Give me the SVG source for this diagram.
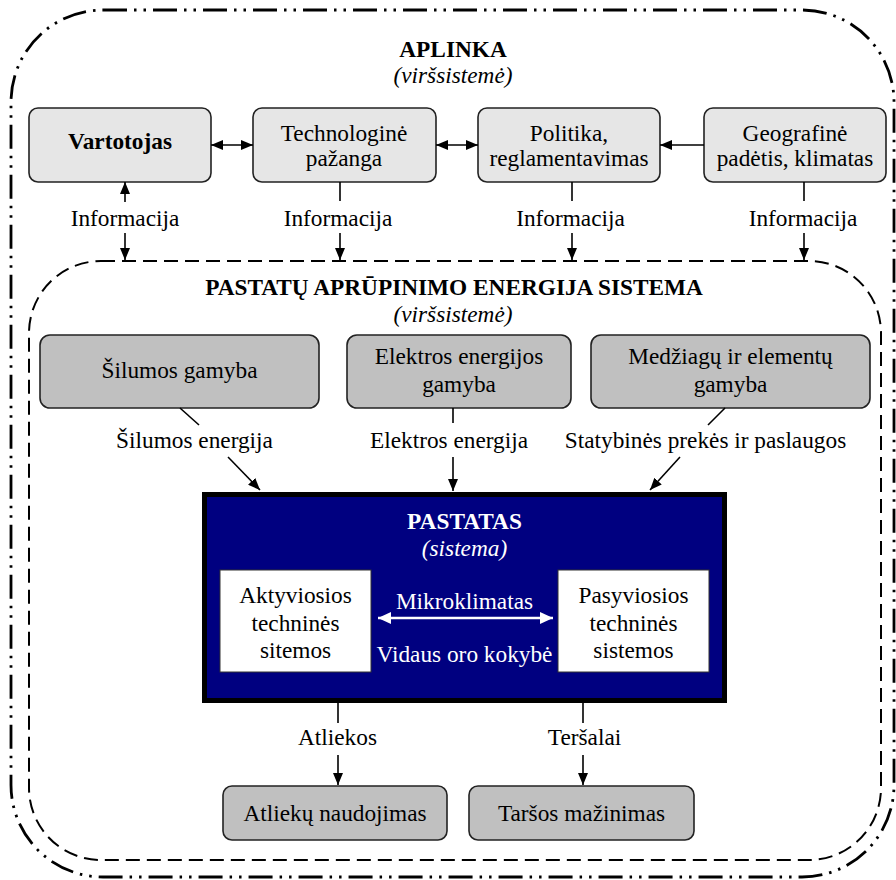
<svg xmlns="http://www.w3.org/2000/svg" width="896" height="880" viewBox="0 0 896 880">
<defs>
<style>
text{font-family:'Liberation Serif','Times New Roman',serif;font-size:23.3px;fill:#000;text-anchor:middle}
.b{font-weight:bold}
.i{font-style:italic}
.w{fill:#fff}
.n1{fill:#e6e6e6;stroke:#222;stroke-width:1.6}
.n2{fill:#c0c0c0;stroke:#222;stroke-width:1.6}
.ln{stroke:#000;stroke-width:1.6;fill:none}
.ar{stroke:#000;stroke-width:1.6;fill:none;marker-end:url(#ah)}
.dar{stroke:#000;stroke-width:1.6;fill:none;marker-start:url(#ah);marker-end:url(#ah)}
</style>
<marker id="ah" markerUnits="userSpaceOnUse" markerWidth="12" markerHeight="10" refX="12" refY="5" orient="auto-start-reverse" viewBox="0 0 12 10"><path d="M0,0 L12,5 L0,10 z" fill="#000"/></marker>
<marker id="wh" markerUnits="userSpaceOnUse" markerWidth="13" markerHeight="12" refX="13" refY="6" orient="auto-start-reverse" viewBox="0 0 13 12"><path d="M0,0 L13,6 L0,12 z" fill="#fff"/></marker>
</defs>
<rect width="896" height="880" fill="#fff"/>

<g id="aplinka">
<rect x="11" y="10" width="883" height="867" rx="92" fill="none" stroke="#000" stroke-width="2.8" stroke-dasharray="24 7 2.5 7 2.5 7"/>
<text x="453" y="57" class="b">APLINKA</text>
<text x="453" y="83" class="i">(viršsistemė)</text>
</g>

<g id="sistema">
<rect x="29" y="261" width="852" height="599" rx="72" fill="none" stroke="#000" stroke-width="2" stroke-dasharray="14 7"/>
<text x="454" y="295" class="b">PASTATŲ APRŪPINIMO ENERGIJA SISTEMA</text>
<text x="453" y="322" class="i">(viršsistemė)</text>
</g>

<g id="vartotojas">
<rect x="29" y="108" width="182" height="74" rx="9" class="n1"/>
<text x="120" y="149" class="b">Vartotojas</text>
</g>
<g id="technologine">
<rect x="253" y="108" width="183" height="74" rx="9" class="n1"/>
<text x="344" y="141">Technologinė</text>
<text x="344" y="166">pažanga</text>
</g>
<g id="politika">
<rect x="478" y="108" width="182" height="74" rx="9" class="n1"/>
<text x="569" y="141">Politika,</text>
<text x="569" y="166">reglamentavimas</text>
</g>
<g id="geografine">
<rect x="704" y="108" width="182" height="74" rx="9" class="n1"/>
<text x="795" y="141">Geografinė</text>
<text x="795" y="166">padėtis, klimatas</text>
</g>

<g id="silumos-gamyba">
<rect x="40" y="335" width="279" height="73" rx="10" class="n2"/>
<text x="179.5" y="378">Šilumos gamyba</text>
</g>
<g id="elektros-gamyba">
<rect x="347" y="335" width="224" height="73" rx="10" class="n2"/>
<text x="459" y="364">Elektros energijos</text>
<text x="459" y="392">gamyba</text>
</g>
<g id="medziagu-gamyba">
<rect x="591" y="335" width="279" height="73" rx="10" class="n2"/>
<text x="730.5" y="364">Medžiagų ir elementų</text>
<text x="730.5" y="392">gamyba</text>
</g>

<g id="pastatas">
<rect x="204.5" y="494.5" width="520" height="206" fill="#000080" stroke="#000" stroke-width="5"/>
<text x="464.5" y="529" class="b w">PASTATAS</text>
<text x="464.5" y="556" class="i w">(sistema)</text>
</g>
<g id="aktyviosios">
<rect x="220" y="570" width="151" height="102" fill="#fff" stroke="#333" stroke-width="1"/>
<text x="295.5" y="603">Aktyviosios</text>
<text x="295.5" y="631">techninės</text>
<text x="295.5" y="658">sitemos</text>
</g>
<g id="pasyviosios">
<rect x="558" y="570" width="151" height="102" fill="#fff" stroke="#333" stroke-width="1"/>
<text x="633.5" y="603">Pasyviosios</text>
<text x="633.5" y="631">techninės</text>
<text x="633.5" y="658">sistemos</text>
</g>

<g id="atlieku-naudojimas">
<rect x="223" y="786" width="224" height="54" rx="9" class="n2"/>
<text x="335" y="821">Atliekų naudojimas</text>
</g>
<g id="tarsos-mazinimas">
<rect x="469" y="786" width="225" height="54" rx="9" class="n2"/>
<text x="581.5" y="821">Taršos mažinimas</text>
</g>

<g id="connectors">
<line x1="211" y1="145" x2="253" y2="145" class="dar"/>
<line x1="436" y1="145" x2="478" y2="145" class="dar"/>
<line x1="704" y1="145" x2="660" y2="145" class="ar"/>

<line x1="125" y1="202" x2="125" y2="182" class="ar"/>
<text x="125" y="226">Informacija</text>
<line x1="125" y1="233" x2="125" y2="260" class="ar"/>

<line x1="340" y1="182" x2="340" y2="201" class="ln"/>
<text x="338" y="226">Informacija</text>
<line x1="340" y1="233" x2="340" y2="260" class="ar"/>

<line x1="572" y1="182" x2="572" y2="201" class="ln"/>
<text x="570.5" y="226">Informacija</text>
<line x1="572" y1="233" x2="572" y2="260" class="ar"/>

<line x1="804" y1="182" x2="804" y2="201" class="ln"/>
<text x="803" y="226">Informacija</text>
<line x1="804" y1="233" x2="804" y2="260" class="ar"/>

<line x1="180" y1="408" x2="199" y2="425" class="ln"/>
<text x="194.5" y="448">Šilumos energija</text>
<line x1="228" y1="457" x2="260" y2="490" class="ar"/>

<line x1="453" y1="408" x2="453" y2="423" class="ln"/>
<text x="449" y="448">Elektros energija</text>
<line x1="453" y1="457" x2="453" y2="491" class="ar"/>

<line x1="725" y1="408" x2="708" y2="425" class="ln"/>
<text x="705.5" y="448">Statybinės prekės ir paslaugos</text>
<line x1="680" y1="457" x2="650" y2="490" class="ar"/>

<text x="464.5" y="609" class="w">Mikroklimatas</text>
<line x1="378" y1="618" x2="553" y2="618" stroke="#fff" stroke-width="2.5" marker-start="url(#wh)" marker-end="url(#wh)"/>
<text x="464.5" y="662" class="w">Vidaus oro kokybė</text>

<line x1="338" y1="703" x2="338" y2="723" class="ln"/>
<text x="337.5" y="745">Atliekos</text>
<line x1="338" y1="755" x2="338" y2="785" class="ar"/>

<line x1="583" y1="703" x2="583" y2="723" class="ln"/>
<text x="584.5" y="745">Teršalai</text>
<line x1="583" y1="755" x2="583" y2="785" class="ar"/>
</g>
</svg>
